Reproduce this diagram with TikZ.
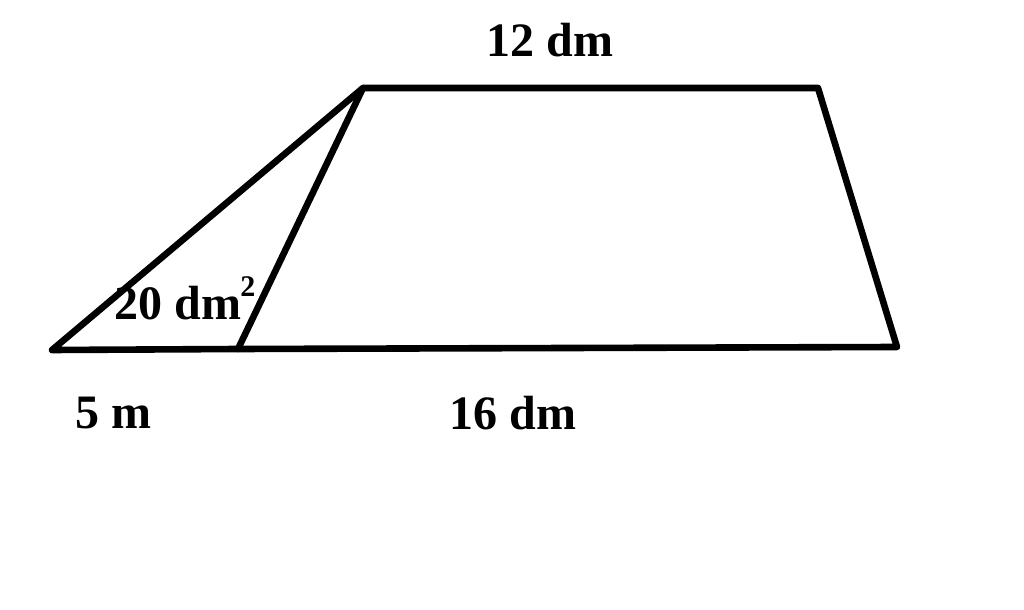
\documentclass[tikz,border=0pt]{standalone}
\usepackage{fontspec}
\setmainfont{Liberation Serif}
\usetikzlibrary{calc}

\begin{document}
\begin{tikzpicture}[x=0.5pt,y=-0.5pt]
\useasboundingbox (0,0) rectangle (1024,610);
% corners of the figure
\coordinate (site1) at (52,350);
\coordinate (site2) at (238,349);
\coordinate (site3) at (897,347);
\coordinate (site4) at (818,88);
\coordinate (site5) at (363,88);

\draw [line width=3.3pt,line join=round,line cap=round] (site1) -- (site2) -- (site3) -- (site4) -- (site5) -- cycle;
\draw [line width=3.3pt,line cap=round] (site5) -- (site2);

\node (top) [font=\fontsize{24}{27}\bfseries\selectfont] at (550,40) {12 dm};
\node (area) [font=\fontsize{24}{27}\bfseries\selectfont,anchor=base west,inner sep=0pt] at (114,320) {20 dm};
\node (sq) [font=\fontsize{15}{17}\bfseries\selectfont,inner sep=0pt,anchor=west] at (240,287) {2};
\node (left) [font=\fontsize{24}{27}\bfseries\selectfont] at (113,413) {5 m};
\node (bottom) [font=\fontsize{24}{27}\bfseries\selectfont] at (513,413) {16 dm};
\end{tikzpicture}
\end{document}
